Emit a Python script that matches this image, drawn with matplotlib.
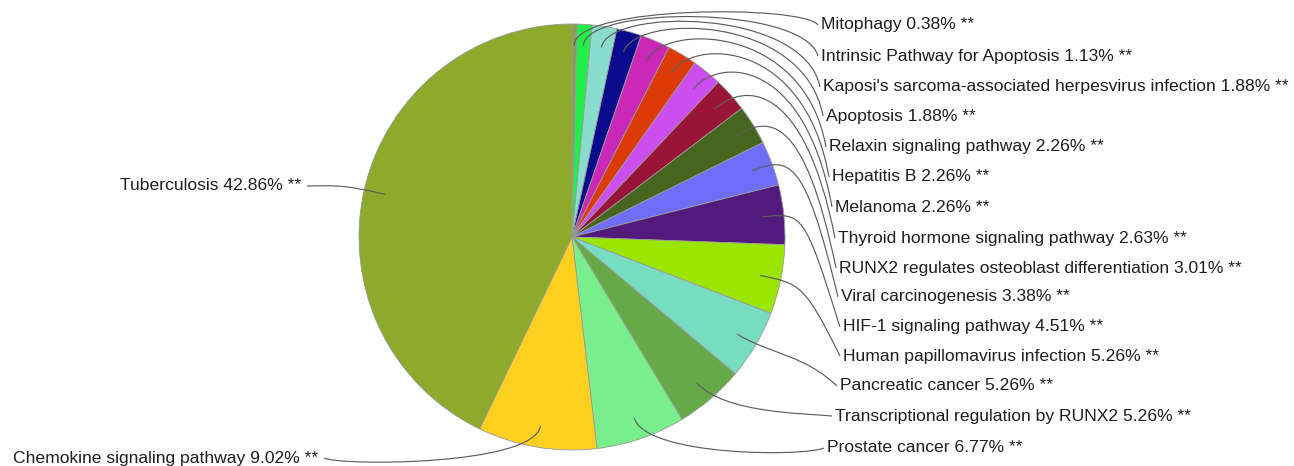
import matplotlib
matplotlib.use("Agg")
import matplotlib.pyplot as plt
import numpy as np
from matplotlib.path import Path
from matplotlib.patches import PathPatch

W, H = 1294, 466

categories = [
    "Mitophagy", "Intrinsic Pathway for Apoptosis",
    "Kaposi's sarcoma-associated herpesvirus infection", "Apoptosis",
    "Relaxin signaling pathway", "Hepatitis B", "Melanoma",
    "Thyroid hormone signaling pathway",
    "RUNX2 regulates osteoblast differentiation", "Viral carcinogenesis",
    "HIF-1 signaling pathway", "Human papillomavirus infection",
    "Pancreatic cancer", "Transcriptional regulation by RUNX2",
    "Prostate cancer", "Chemokine signaling pathway", "Tuberculosis",
]
values = [0.38, 1.13, 1.88, 1.88, 2.26, 2.26, 2.26, 2.63, 3.01, 3.38,
          4.51, 5.26, 5.26, 5.26, 6.77, 9.02, 42.86]
colors = ["#8f9a55", "#22ee4a", "#8adccc", "#0a0a8c", "#cc28b8", "#dd3a08",
          "#cc4ef0", "#9a1438", "#46651e", "#6e6efa", "#521a7c", "#9ae600",
          "#78dcc0", "#66aa48", "#78ee8c", "#fdd020", "#8daa2a"]

# label anchor positions (pixel coords, y from top)
label_pos = [(821, 25), (821, 56), (823, 87), (826, 116), (829, 147),
             (832, 177), (835, 207), (838, 238), (839, 268), (841, 297),
             (843, 327), (843, 356), (840, 386), (835, 416), (827, 448),
             (318, 458), (301, 186)]

fig = plt.figure(figsize=(W / 100, H / 100), dpi=100)
ax = fig.add_axes([0, 0, 1, 1])

cx, cy, R = 572, H - 237, 213
wedges, _ = ax.pie(values, colors=colors, startangle=90, counterclock=False,
                   center=(cx, cy), radius=R, frame=True,
                   wedgeprops=dict(edgecolor="#9a9a9a", linewidth=0.6))
ax.set_xlim(0, W)
ax.set_ylim(0, H)
ax.set_aspect("equal")
ax.axis("off")

link_r = 1.09 * R
for w, cat, val, (lx, ly) in zip(wedges, categories, values, label_pos):
    mid = np.deg2rad((w.theta1 + w.theta2) / 2)
    u = np.array([np.cos(mid), np.sin(mid)])
    c = np.array([cx, cy])
    p0 = c + u * R * 0.9
    elbow = c + u * link_r
    ey = H - ly
    right = lx > cx
    anchor_x = cx + link_r if right else cx - link_r
    ex = lx - 3 if right else lx + 6
    p2 = np.array([anchor_x, elbow[1]])
    p3 = np.array([ex, ey])
    path = Path([p0, elbow, p2, p3],
                [Path.MOVETO, Path.CURVE4, Path.CURVE4, Path.CURVE4])
    ax.add_patch(PathPatch(path, fill=False, edgecolor="#5e5e5e", lw=0.85))
    ax.text(lx, ey, f"{cat} {val:.2f}% **", ha="left" if right else "right",
            va="center", fontsize=12.6, family="Liberation Sans",
            color="#1e1e1e")

fig.savefig("out.png", dpi=100)
